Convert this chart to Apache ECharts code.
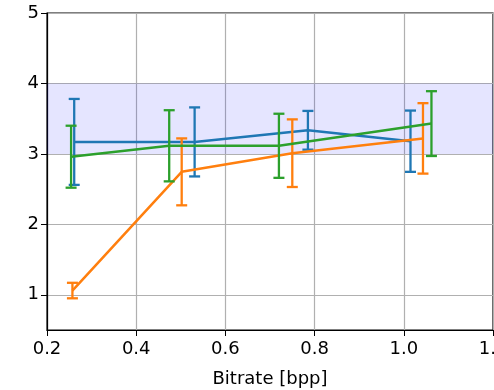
<!DOCTYPE html>
<html>
<head>
<meta charset="utf-8">
<script src="https://cdn.jsdelivr.net/npm/echarts@6/dist/echarts.min.js"></script>
<style>
  html, body { margin: 0; padding: 0; background: #fff; }
  #chart { width: 494px; height: 390px; }
</style>
</head>
<body>
<div id="chart"></div>
<script>
// bitrate (x), mean score (y) and error half-width per method
const blueX = [0.261, 0.531, 0.785, 1.015];
const blueY = [3.17, 3.17, 3.335, 3.18];
const blueErr = [0.61, 0.49, 0.275, 0.435];

const orangeX = [0.257, 0.502, 0.75, 1.043];
const orangeY = [1.06, 2.745, 3.01, 3.22];
const orangeErr = [0.11, 0.475, 0.48, 0.5];

const greenX = [0.254, 0.474, 0.72, 1.062];
const greenY = [2.96, 3.115, 3.115, 3.43];
const greenErr = [0.44, 0.505, 0.455, 0.46];

const yTicks = [1, 2, 3, 4, 5];
const bandRange = [3, 4];
const titleText = 'Overall';
const xName = 'Bitrate [bpp]';

const chart = echarts.init(document.getElementById('chart'));
const font = 'DejaVu Sans';

function pts(xs, ys) {
    return xs.map((x, i) => [x, ys[i]]);
}

function errSeries(xs, ys, errs, color, z) {
    return {
        type: 'custom',
        z: z,
        silent: true,
        data: xs.map((x, i) => [x, ys[i] - errs[i], ys[i] + errs[i]]),
        renderItem: function (params, api) {
            const lo = api.coord([api.value(0), api.value(1)]);
            const hi = api.coord([api.value(0), api.value(2)]);
            const hw = 5.5;
            const style = { stroke: color, lineWidth: 2.3 };
            return {
                type: 'group',
                children: [
                    { type: 'line', shape: { x1: lo[0], y1: lo[1], x2: hi[0], y2: hi[1] }, style: style },
                    { type: 'line', shape: { x1: lo[0] - hw, y1: lo[1], x2: lo[0] + hw, y2: lo[1] }, style: style },
                    { type: 'line', shape: { x1: hi[0] - hw, y1: hi[1], x2: hi[0] + hw, y2: hi[1] }, style: style }
                ]
            };
        }
    };
}

function lineSeries(xs, ys, color, z, extra) {
    return Object.assign({
        type: 'line',
        z: z,
        data: pts(xs, ys),
        showSymbol: false,
        symbol: 'none',
        lineStyle: { color: color, width: 2.5 },
        itemStyle: { color: color }
    }, extra || {});
}

const option = {
    animation: false,
    // title sits mostly above the visible area, only its bottom edge shows
    graphic: [{
        type: 'text',
        x: 270,
        y: 4,
        silent: true,
        style: {
            text: titleText,
            fontFamily: font, fontSize: 18, fill: '#000',
            textAlign: 'center', textVerticalAlign: 'bottom'
        }
    }],
    grid: {
        left: 47, right: 1, top: 13, bottom: 60,
        outerBoundsMode: 'none',
        show: true, borderColor: '#000', borderWidth: 1.2, backgroundColor: 'transparent'
    },
    xAxis: {
        type: 'value',
        min: 0.2,
        max: 1.2,
        interval: 0.2,
        name: xName,
        nameLocation: 'middle',
        nameGap: 40,
        nameTextStyle: { fontFamily: font, fontSize: 18, color: '#000' },
        axisLine: { show: true, onZero: false, lineStyle: { color: '#000', width: 1.2 } },
        axisTick: { show: true, length: 6, lineStyle: { color: '#000' } },
        axisLabel: {
            fontFamily: font, fontSize: 18, color: '#000', margin: 10,
            showMaxLabel: true, showMinLabel: true, hideOverlap: false,
            formatter: v => v.toFixed(1)
        },
        splitLine: { show: true, lineStyle: { color: '#b0b0b0', width: 1.2 } }
    },
    yAxis: {
        type: 'value',
        min: 0.5,
        max: 5,
        axisLine: { show: true, onZero: false, lineStyle: { color: '#000', width: 1.2 } },
        axisTick: { show: true, length: 6, customValues: yTicks, lineStyle: { color: '#000' } },
        axisLabel: { fontFamily: font, fontSize: 18, color: '#000', margin: 8, customValues: yTicks },
        splitLine: { show: true, lineStyle: { color: '#b0b0b0', width: 1.2 } }
    },
    series: [
        lineSeries(blueX, blueY, '#1f77b4', 3, {
            markArea: {
                silent: true,
                itemStyle: { color: 'rgba(0,0,255,0.1)' },
                data: [[{ yAxis: bandRange[0] }, { yAxis: bandRange[1] }]]
            }
        }),
        errSeries(blueX, blueY, blueErr, '#1f77b4', 3),
        lineSeries(orangeX, orangeY, '#ff7f0e', 4),
        errSeries(orangeX, orangeY, orangeErr, '#ff7f0e', 4),
        lineSeries(greenX, greenY, '#2ca02c', 5),
        errSeries(greenX, greenY, greenErr, '#2ca02c', 5)
    ]
};
chart.setOption(option);
</script>
</body>
</html>
